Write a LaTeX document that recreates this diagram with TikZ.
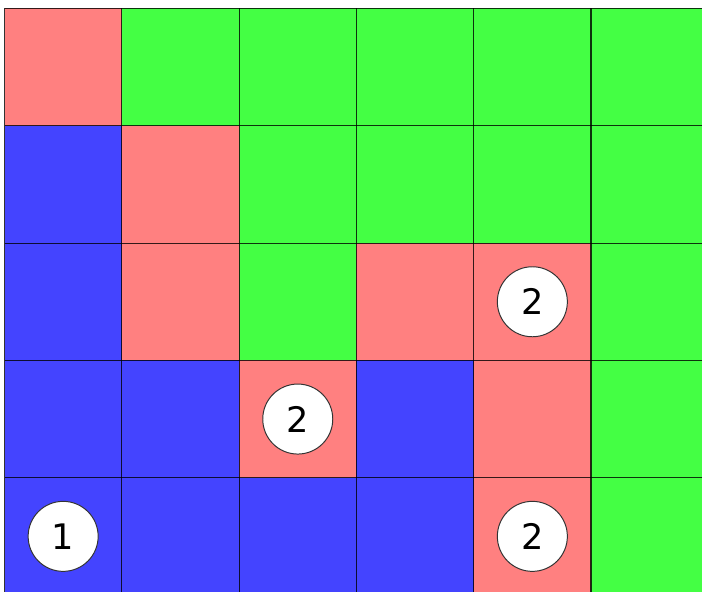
\documentclass[tikz,border=0pt]{standalone}
\usepackage{fontspec}
\setmainfont{DejaVu Sans}
\definecolor{cellR}{HTML}{FF8080}
\definecolor{cellG}{HTML}{44FF44}
\definecolor{cellB}{HTML}{4444FF}
\newcommand{\cellsize}{117.3}
\begin{document}
\begin{tikzpicture}[x=0.025cm,y=-0.025cm,
    gridline/.style={draw=black,draw opacity=0.8,line width=0.75pt},
    token/.style={circle,fill=white,draw=black!80,line width=0.7pt,minimum size=1.75cm,inner sep=0pt,font=\fontsize{25}{25}\selectfont}]
    \useasboundingbox (0,0) rectangle (702,591);
    \clip (0,0) rectangle (702,591);
    % board colours, one row per entry
    \foreach \cols [count=\r from 0] in {{R,G,G,G,G,G},{B,R,G,G,G,G},{B,R,G,R,R,G},{B,B,R,B,R,G},{B,B,B,B,R,G}}{
      \foreach \c [count=\k from 0] in \cols
        \fill[cell\c] (4.5+\k*\cellsize,8.5+\r*\cellsize) rectangle ++(\cellsize,\cellsize);
    }
    % grid lines
    \foreach \k in {0,...,6}
      \draw[gridline] (4.5+\k*\cellsize,8.5) -- ++(0,5*\cellsize);
    \foreach \r in {0,...,5}
      \draw[gridline] (4.5,8.5+\r*\cellsize) -- ++(6*\cellsize,0);
    \node[token] (one) at (63.15,536.35) {1};
    \node[token] (twoA) at (532.35,301.75) {2};
    \node[token] (twoB) at (297.75,419.05) {2};
    \node[token] (twoC) at (532.35,536.35) {2};
  \end{tikzpicture}
\end{document}
